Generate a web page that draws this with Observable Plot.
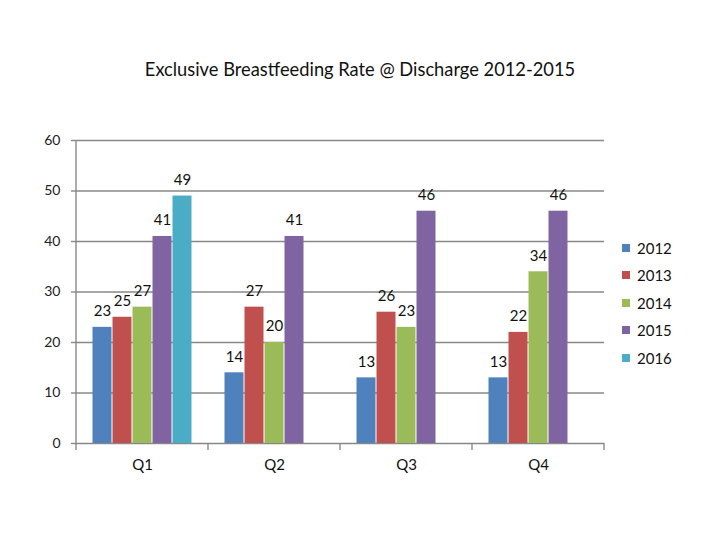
<!DOCTYPE html>
<html>
<head>
<meta charset="utf-8">
<script src="https://cdn.jsdelivr.net/npm/d3@7"></script>
<script src="https://cdn.jsdelivr.net/npm/@observablehq/plot@0.6"></script>
<style>
  body { margin: 0; background: #fff; }
  #wrap { position: relative; width: 720px; height: 540px; overflow: hidden; font-family: Lato, "Open Sans", sans-serif; }
  #title { position: absolute; left: 0; top: 57px; width: 720px; text-align: center; font-size: 18.3px; line-height: 24px; color: #111; }
  #chart { position: absolute; left: 0; top: 100px; }
  #legend { position: absolute; left: 622px; top: 234px; font-size: 15px; color: #111; }
  .row { height: 27.5px; display: flex; align-items: center; }
  .sw { width: 8px; height: 8px; margin-right: 7px; }
</style>
</head>
<body>
<div id="wrap">
  <div id="title">Exclusive Breastfeeding Rate @ Discharge 2012-2015</div>
  <div id="chart"></div>
  <div id="legend"></div>
</div>
<script>
const quarters = ["Q1", "Q2", "Q3", "Q4"];
const years = ["2012", "2013", "2014", "2015", "2016"];
const v2012 = [23, 14, 13, 13];
const v2013 = [25, 27, 26, 22];
const v2014 = [27, 20, 23, 34];
const v2015 = [41, 41, 46, 46];
const v2016 = [49, null, null, null];
const colors = ["#4F81BD", "#C0504D", "#9BBB59", "#8064A2", "#4BACC6"];
const yTicks = [0, 10, 20, 30, 40, 50, 60];

const series = [v2012, v2013, v2014, v2015, v2016];
const data = [];
quarters.forEach((q, i) => {
  years.forEach((yr, j) => {
    const v = series[j][i];
    if (v != null) data.push({q, year: yr, value: v});
  });
});

const font = "Lato, 'Open Sans', sans-serif";
const chart = Plot.plot({
  width: 720,
  height: 440,
  marginTop: 40,
  marginBottom: 97,
  marginLeft: 75,
  marginRight: 115,
  style: {fontFamily: font, background: "white"},
  fx: {domain: quarters, padding: 0, label: null},
  x: {domain: years, paddingInner: 0, paddingOuter: 0.78, axis: null},
  y: {domain: [0, 60], label: null},
  color: {domain: years, range: colors},
  marks: [
    Plot.gridY(yTicks, {stroke: "#888", strokeOpacity: 1, strokeWidth: 1.4}),
    Plot.axisY(yTicks, {tickSize: 5, tickPadding: 11, stroke: "#888", strokeWidth: 1.4, fontSize: 14, fill: "#222", label: null}),
    Plot.axisFx({anchor: "bottom", tickSize: 0, tickPadding: 16, fontSize: 15, fill: "#111", label: null}),
    Plot.barY(data, {fx: "q", x: "year", y: "value", fill: "year", insetLeft: 0.5, insetRight: 0.5}),
    Plot.text(data, {fx: "q", x: "year", y: "value", text: d => String(d.value), dy: -16, fontSize: 15, fill: "#111"})
  ]
});
document.getElementById("chart").appendChild(chart);

// axis line and category boundary ticks from the plot's own scales
const fx = chart.scale("fx");
const ys = chart.scale("y");
const svg = d3.select(chart);
const x0 = fx.apply(quarters[0]);
const bottom = ys.apply(0);
svg.append("line").attr("x1", x0).attr("x2", x0).attr("y1", ys.apply(60)).attr("y2", bottom)
  .attr("stroke", "#888").attr("stroke-width", 1.4);
const edges = quarters.map(q => fx.apply(q)).concat([fx.apply(quarters[quarters.length - 1]) + fx.bandwidth]);
edges.forEach(e => {
  svg.append("line").attr("x1", e).attr("x2", e).attr("y1", bottom).attr("y2", bottom + 7)
    .attr("stroke", "#888").attr("stroke-width", 1.4);
});

const legend = document.getElementById("legend");
years.forEach((yr, j) => {
  const row = document.createElement("div");
  row.className = "row";
  row.innerHTML = `<div class="sw" style="background:${colors[j]}"></div><span>${yr}</span>`;
  legend.appendChild(row);
});
</script>
</body>
</html>
